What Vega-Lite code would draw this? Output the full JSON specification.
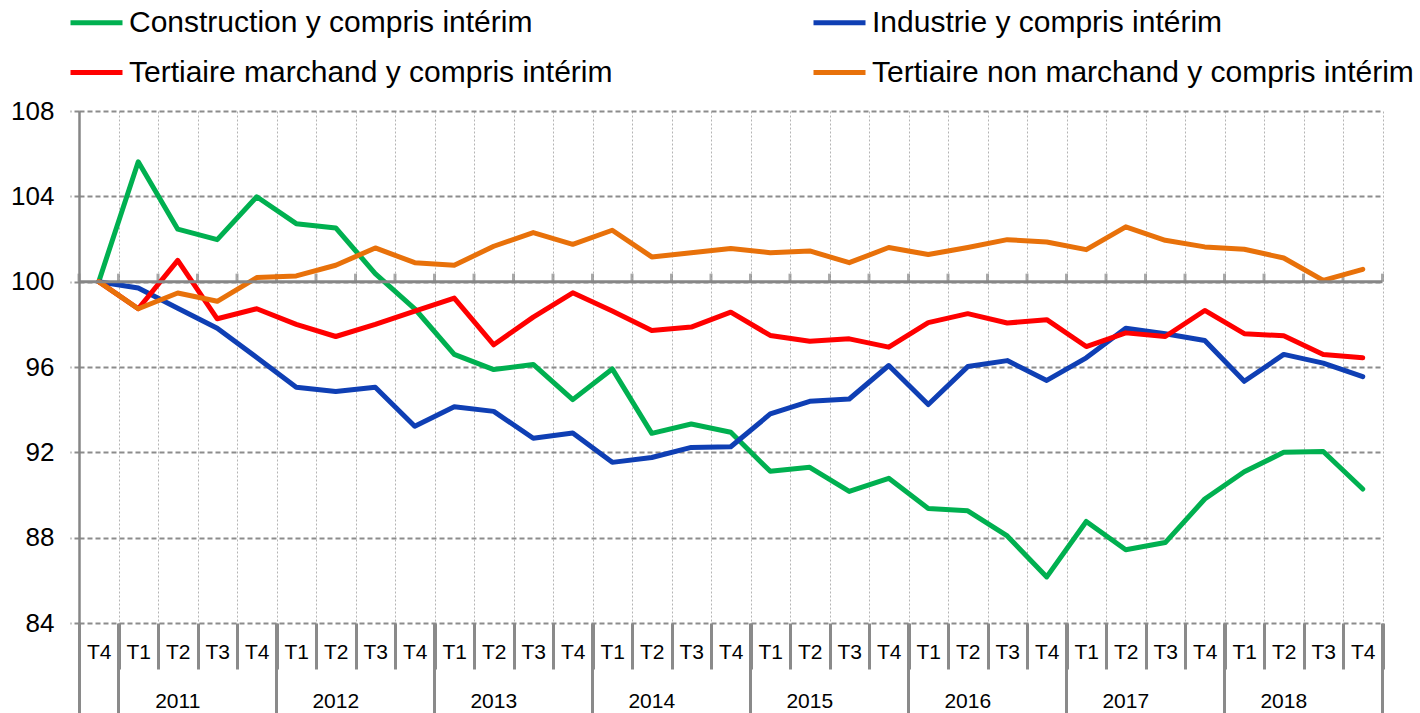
{
  "$schema": "https://vega.github.io/schema/vega-lite/v6.json",
  "width": 1303.5,
  "height": 512,
  "autosize": {"type": "none"},
  "padding": {"left": 79, "top": 111, "right": 37.5, "bottom": 90},
  "background": "white",
  "config": {
    "view": {"stroke": null},
    "font": "Liberation Sans",
    "axis": {"labelFont": "Liberation Sans", "labelColor": "black", "labelOverlap": false, "labelFlush": false, "labelBound": false},
    "axisY": {
      "title": null,
      "grid": true, "gridColor": "#8c8c8c", "gridDash": [5, 3], "gridWidth": 2,
      "domain": true, "domainColor": "#868686", "domainWidth": 2.5,
      "ticks": true, "tickSize": 9, "tickColor": "#8c8c8c", "tickDash": [5, 3], "tickWidth": 2,
      "labelFontSize": 26, "labelPadding": 16
    }
  },
  "data": {
    "values": [
      {"q": "2010-T4", "Construction y compris intérim": 100, "Industrie y compris intérim": 100, "Tertiaire marchand y compris intérim": 100, "Tertiaire non marchand y compris intérim": 100},
      {"q": "2011-T1", "Construction y compris intérim": 105.62, "Industrie y compris intérim": 99.7, "Tertiaire marchand y compris intérim": 98.73, "Tertiaire non marchand y compris intérim": 98.73},
      {"q": "2011-T2", "Construction y compris intérim": 102.46, "Industrie y compris intérim": 98.75, "Tertiaire marchand y compris intérim": 101.0, "Tertiaire non marchand y compris intérim": 99.47},
      {"q": "2011-T3", "Construction y compris intérim": 101.97, "Industrie y compris intérim": 97.82, "Tertiaire marchand y compris intérim": 98.26, "Tertiaire non marchand y compris intérim": 99.08},
      {"q": "2011-T4", "Construction y compris intérim": 103.98, "Industrie y compris intérim": 96.45, "Tertiaire marchand y compris intérim": 98.73, "Tertiaire non marchand y compris intérim": 100.19},
      {"q": "2012-T1", "Construction y compris intérim": 102.72, "Industrie y compris intérim": 95.05, "Tertiaire marchand y compris intérim": 98.0, "Tertiaire non marchand y compris intérim": 100.27},
      {"q": "2012-T2", "Construction y compris intérim": 102.52, "Industrie y compris intérim": 94.85, "Tertiaire marchand y compris intérim": 97.43, "Tertiaire non marchand y compris intérim": 100.77},
      {"q": "2012-T3", "Construction y compris intérim": 100.38, "Industrie y compris intérim": 95.05, "Tertiaire marchand y compris intérim": 98.0, "Tertiaire non marchand y compris intérim": 101.58},
      {"q": "2012-T4", "Construction y compris intérim": 98.73, "Industrie y compris intérim": 93.22, "Tertiaire marchand y compris intérim": 98.62, "Tertiaire non marchand y compris intérim": 100.89},
      {"q": "2013-T1", "Construction y compris intérim": 96.59, "Industrie y compris intérim": 94.14, "Tertiaire marchand y compris intérim": 99.23, "Tertiaire non marchand y compris intérim": 100.77},
      {"q": "2013-T2", "Construction y compris intérim": 95.88, "Industrie y compris intérim": 93.92, "Tertiaire marchand y compris intérim": 97.04, "Tertiaire non marchand y compris intérim": 101.66},
      {"q": "2013-T3", "Construction y compris intérim": 96.12, "Industrie y compris intérim": 92.66, "Tertiaire marchand y compris intérim": 98.34, "Tertiaire non marchand y compris intérim": 102.3},
      {"q": "2013-T4", "Construction y compris intérim": 94.47, "Industrie y compris intérim": 92.91, "Tertiaire marchand y compris intérim": 99.48, "Tertiaire non marchand y compris intérim": 101.75},
      {"q": "2014-T1", "Construction y compris intérim": 95.91, "Industrie y compris intérim": 91.53, "Tertiaire marchand y compris intérim": 98.62, "Tertiaire non marchand y compris intérim": 102.41},
      {"q": "2014-T2", "Construction y compris intérim": 92.89, "Industrie y compris intérim": 91.76, "Tertiaire marchand y compris intérim": 97.71, "Tertiaire non marchand y compris intérim": 101.16},
      {"q": "2014-T3", "Construction y compris intérim": 93.33, "Industrie y compris intérim": 92.23, "Tertiaire marchand y compris intérim": 97.87, "Tertiaire non marchand y compris intérim": 101.36},
      {"q": "2014-T4", "Construction y compris intérim": 92.94, "Industrie y compris intérim": 92.26, "Tertiaire marchand y compris intérim": 98.57, "Tertiaire non marchand y compris intérim": 101.55},
      {"q": "2015-T1", "Construction y compris intérim": 91.11, "Industrie y compris intérim": 93.8, "Tertiaire marchand y compris intérim": 97.48, "Tertiaire non marchand y compris intérim": 101.36},
      {"q": "2015-T2", "Construction y compris intérim": 91.3, "Industrie y compris intérim": 94.39, "Tertiaire marchand y compris intérim": 97.21, "Tertiaire non marchand y compris intérim": 101.44},
      {"q": "2015-T3", "Construction y compris intérim": 90.17, "Industrie y compris intérim": 94.5, "Tertiaire marchand y compris intérim": 97.32, "Tertiaire non marchand y compris intérim": 100.89},
      {"q": "2015-T4", "Construction y compris intérim": 90.78, "Industrie y compris intérim": 96.07, "Tertiaire marchand y compris intérim": 96.93, "Tertiaire non marchand y compris intérim": 101.6},
      {"q": "2016-T1", "Construction y compris intérim": 89.37, "Industrie y compris intérim": 94.24, "Tertiaire marchand y compris intérim": 98.08, "Tertiaire non marchand y compris intérim": 101.27},
      {"q": "2016-T2", "Construction y compris intérim": 89.26, "Industrie y compris intérim": 96.02, "Tertiaire marchand y compris intérim": 98.5, "Tertiaire non marchand y compris intérim": 101.6},
      {"q": "2016-T3", "Construction y compris intérim": 88.08, "Industrie y compris intérim": 96.3, "Tertiaire marchand y compris intérim": 98.06, "Tertiaire non marchand y compris intérim": 101.97},
      {"q": "2016-T4", "Construction y compris intérim": 86.16, "Industrie y compris intérim": 95.37, "Tertiaire marchand y compris intérim": 98.22, "Tertiaire non marchand y compris intérim": 101.86},
      {"q": "2017-T1", "Construction y compris intérim": 88.76, "Industrie y compris intérim": 96.43, "Tertiaire marchand y compris intérim": 96.96, "Tertiaire non marchand y compris intérim": 101.5},
      {"q": "2017-T2", "Construction y compris intérim": 87.43, "Industrie y compris intérim": 97.82, "Tertiaire marchand y compris intérim": 97.6, "Tertiaire non marchand y compris intérim": 102.57},
      {"q": "2017-T3", "Construction y compris intérim": 87.77, "Industrie y compris intérim": 97.56, "Tertiaire marchand y compris intérim": 97.43, "Tertiaire non marchand y compris intérim": 101.94},
      {"q": "2017-T4", "Construction y compris intérim": 89.81, "Industrie y compris intérim": 97.24, "Tertiaire marchand y compris intérim": 98.65, "Tertiaire non marchand y compris intérim": 101.63},
      {"q": "2018-T1", "Construction y compris intérim": 91.09, "Industrie y compris intérim": 95.33, "Tertiaire marchand y compris intérim": 97.56, "Tertiaire non marchand y compris intérim": 101.52},
      {"q": "2018-T2", "Construction y compris intérim": 92.0, "Industrie y compris intérim": 96.59, "Tertiaire marchand y compris intérim": 97.46, "Tertiaire non marchand y compris intérim": 101.11},
      {"q": "2018-T3", "Construction y compris intérim": 92.04, "Industrie y compris intérim": 96.18, "Tertiaire marchand y compris intérim": 96.59, "Tertiaire non marchand y compris intérim": 100.06},
      {"q": "2018-T4", "Construction y compris intérim": 90.28, "Industrie y compris intérim": 95.55, "Tertiaire marchand y compris intérim": 96.43, "Tertiaire non marchand y compris intérim": 100.58}
    ]
  },
  "transform": [
    {"fold": ["Construction y compris intérim", "Industrie y compris intérim", "Tertiaire marchand y compris intérim", "Tertiaire non marchand y compris intérim"], "as": ["serie", "valeur"]}
  ],
  "resolve": {"axis": {"x": "independent"}},
  "layer": [
    {
      "transform": [{"filter": "datum.serie === 'Construction y compris intérim'"}],
      "mark": {"type": "tick", "orient": "vertical", "color": "#868686", "size": 8, "thickness": 3, "yOffset": -4},
      "encoding": {
        "x": {"field": "q", "type": "ordinal", "bandPosition": 0, "scale": {"type": "band", "paddingInner": 0, "paddingOuter": 0}, "axis": null},
        "y": {"datum": 100, "type": "quantitative", "scale": {"domain": [84, 108], "nice": false, "zero": false}, "axis": {"title": null, "values": [84, 88, 92, 96, 100, 104, 108]}}
      }
    },
    {
      "transform": [{"filter": "datum.serie === 'Construction y compris intérim' && datum.q === '2018-T4'"}],
      "mark": {"type": "tick", "orient": "vertical", "color": "#868686", "size": 8, "thickness": 3, "yOffset": -4},
      "encoding": {
        "x": {"field": "q", "type": "ordinal", "bandPosition": 1, "scale": {"type": "band", "paddingInner": 0, "paddingOuter": 0}, "axis": null},
        "y": {"datum": 100, "type": "quantitative", "scale": {"domain": [84, 108], "nice": false, "zero": false}, "axis": {"title": null, "values": [84, 88, 92, 96, 100, 104, 108]}}
      }
    },
    {
      "mark": {"type": "line", "strokeWidth": 5, "strokeJoin": "round", "strokeCap": "round"},
      "encoding": {
        "x": {
          "field": "q", "type": "ordinal", "bandPosition": 0.5,
          "scale": {"type": "band", "paddingInner": 0, "paddingOuter": 0},
          "axis": {
            "orient": "bottom", "title": null, "domain": false,
            "tickBand": "extent", "ticks": true, "tickSize": 46, "tickWidth": 3, "tickColor": "#8a8a8a",
            "grid": true, "gridColor": "#b4b4b4", "gridDash": [2, 2], "gridWidth": 1,
            "labelExpr": "split(datum.value, '-')[1]",
            "labelFontSize": 21, "labelBaseline": "middle", "labelPadding": -17, "labelAngle": 0
          }
        },
        "y": {
          "field": "valeur", "type": "quantitative",
          "scale": {"domain": [84, 108], "nice": false, "zero": false},
          "axis": {"title": null, "values": [84, 88, 92, 96, 100, 104, 108]}
        },
        "color": {
          "field": "serie", "type": "nominal",
          "scale": {
            "domain": ["Construction y compris intérim", "Industrie y compris intérim", "Tertiaire marchand y compris intérim", "Tertiaire non marchand y compris intérim"],
            "range": ["#00B050", "#0F3FB4", "#FF0000", "#E8710A"]
          },
          "legend": {
            "orient": "none", "legendX": -11, "legendY": -117, "columns": 2, "direction": "horizontal",
            "title": null, "symbolType": "stroke", "symbolSize": 2704, "symbolStrokeWidth": 5,
            "labelFontSize": 30, "labelFont": "Liberation Sans", "labelColor": "black", "labelOffset": 4,
            "columnPadding": 190, "rowPadding": 6, "labelLimit": 1000, "padding": 0
          }
        }
      }
    },
    {
      "data": {"values": [{"reference": 100}]},
      "mark": {"type": "rule", "color": "#868686", "strokeWidth": 3},
      "encoding": {
        "y": {
          "field": "reference", "type": "quantitative",
          "scale": {"domain": [84, 108], "nice": false, "zero": false},
          "axis": {"title": null, "values": [84, 88, 92, 96, 100, 104, 108]}
        }
      }
    },
    {
      "mark": {"type": "point", "opacity": 0},
      "encoding": {
        "x": {
          "field": "q", "type": "ordinal",
          "scale": {"type": "band", "paddingInner": 0, "paddingOuter": 0},
          "axis": {
            "orient": "bottom", "title": null, "domain": false, "grid": false,
            "bandPosition": 1, "tickExtra": true,
            "values": ["2010-T4", "2011-T2", "2011-T4", "2012-T2", "2012-T4", "2013-T2", "2013-T4", "2014-T2", "2014-T4", "2015-T2", "2015-T4", "2016-T2", "2016-T4", "2017-T2", "2017-T4", "2018-T2", "2018-T4"],
            "tickSize": 90, "tickWidth": 3, "tickColor": "#8a8a8a",
            "tickOpacity": {"condition": {"test": "!isString(datum.value) || indexof(datum.value, 'T4') >= 0", "value": 1}, "value": 0},
            "labelExpr": "isString(datum.value) && indexof(datum.value, 'T2') >= 0 ? split(datum.value, '-')[0] : ''",
            "labelFontSize": 21, "labelBaseline": "middle", "labelPadding": -12, "labelAngle": 0
          }
        }
      }
    }
  ]
}
